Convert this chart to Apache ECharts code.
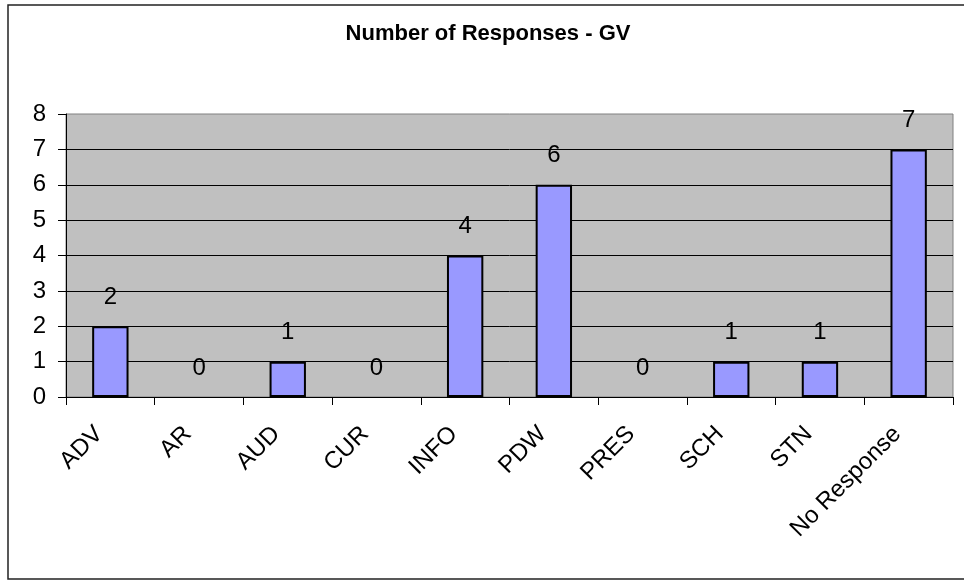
<!DOCTYPE html>
<html>
<head>
<meta charset="utf-8">
<script src="https://cdn.jsdelivr.net/npm/echarts@6/dist/echarts.min.js"></script>
<style>
  html, body { margin: 0; padding: 0; background: #fff; }
  #mychart { width: 964px; height: 581px; }
</style>
</head>
<body>
<div id="mychart"></div>
<script>
// categories on the x axis
const categories = ["ADV", "AR", "AUD", "CUR", "INFO", "PDW", "PRES", "SCH", "STN", "No Response"];
// number of responses per category
const responses = [2, 0, 1, 0, 4, 6, 0, 1, 1, 7];
// y axis range
const yMin = 0;
const yMax = 8;
const yStep = 1;
const chartTitle = "Number of Responses - GV";

const font = "Arial, 'Liberation Sans', sans-serif";

// zero bars have no visible outline
const barData = responses.map(v => (v === 0 ? { value: v, itemStyle: { borderWidth: 0 } } : v));

const myChart = echarts.init(document.getElementById("mychart"));
const option = {
  backgroundColor: "#fff",
  animation: false,
  graphic: [
    {
      // outer chart frame
      type: "rect",
      shape: { x: 8, y: 5, width: 970, height: 574 },
      style: { fill: "none", stroke: "#222", lineWidth: 1.5 },
      z: 0
    },
    {
      type: "text",
      x: 488,
      y: 34,
      style: {
        text: chartTitle,
        align: "center",
        verticalAlign: "middle",
        textAlign: "center",
        textVerticalAlign: "middle",
        font: "bold 22px " + font,
        fill: "#000"
      }
    }
  ],
  grid: {
    left: 66,
    right: 11,
    top: 114,
    bottom: 184,
    show: true,
    backgroundColor: "#C0C0C0",
    borderColor: "#808080",
    borderWidth: 1
  },
  xAxis: {
    type: "category",
    data: categories,
    axisLine: { lineStyle: { color: "#000", width: 1 } },
    axisTick: { show: true, length: 8, lineStyle: { color: "#000" } },
    axisLabel: {
      rotate: 45,
      interval: 0,
      margin: 22,
      padding: [0, 16, 0, 0],
      fontFamily: font,
      fontSize: 24,
      color: "#000"
    }
  },
  yAxis: {
    type: "value",
    min: yMin,
    max: yMax,
    interval: yStep,
    axisLine: { show: true, lineStyle: { color: "#000", width: 1 } },
    axisTick: { show: true, length: 8, lineStyle: { color: "#000" } },
    axisLabel: {
      margin: 20,
      fontFamily: font,
      fontSize: 24,
      color: "#000"
    },
    splitLine: {
      show: true,
      showMaxLine: false,
      lineStyle: { color: "#000", width: 1 }
    }
  },
  series: [
    {
      type: "bar",
      data: barData,
      barWidth: "41%",
      itemStyle: {
        color: "#9999FF",
        borderColor: "#000",
        borderWidth: 2
      },
      label: {
        show: true,
        position: "top",
        distance: 17,
        fontFamily: font,
        fontSize: 24,
        color: "#000"
      }
    }
  ]
};
myChart.setOption(option);
window.addEventListener("resize", () => {
  myChart.resize();
});
</script>
</body>
</html>
